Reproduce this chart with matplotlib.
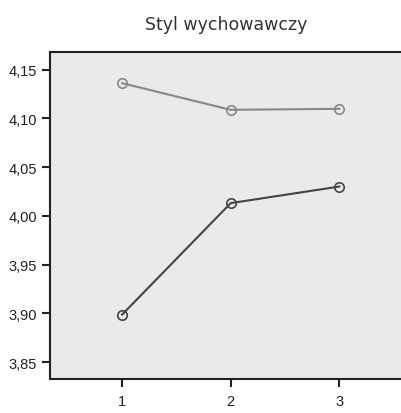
import matplotlib
matplotlib.use('Agg')
import matplotlib.pyplot as plt
from matplotlib.ticker import FuncFormatter

x = [1, 2, 3]
series_light = [4.136, 4.1087, 4.1097]
series_dark = [3.8987, 4.013, 4.030]
y_ticks = [3.85, 3.90, 3.95, 4.00, 4.05, 4.10, 4.15]

W, H = 402, 414
fig = plt.figure(figsize=(W / 100, H / 100), dpi=100)
# axes box in pixels: left 50, top 53, bottom 380, right runs off the image
ax = fig.add_axes([50 / W, 1 - 380 / H, 362 / W, 327 / H])
ax.set_facecolor('#eaeaea')

ax.plot(x, series_light, color='#888888', lw=1.5, marker='o', ms=6.8,
        mfc='none', mec='#888888', mew=1.2)
ax.plot(x, series_dark, color='#444444', lw=1.5, marker='o', ms=6.8,
        mfc='none', mec='#444444', mew=1.2)

ax.set_xlim(0.335, 3.67)
ax.set_ylim(3.8326, 4.168)
ax.set_xticks(x)
ax.set_yticks(y_ticks)
ax.yaxis.set_major_formatter(FuncFormatter(lambda v, p: f'{v:.2f}'.replace('.', ',')))

for s in ['left', 'top', 'bottom']:
    ax.spines[s].set_color('#222222')
    ax.spines[s].set_linewidth(1.5)
ax.spines['right'].set_visible(False)

ax.tick_params(direction='out', length=6, width=1.5, color='#222222',
               labelsize=10.5, labelcolor='#222222')
ax.tick_params(axis='x', pad=5)
for lbl in ax.get_xticklabels() + ax.get_yticklabels():
    lbl.set_family('Liberation Sans')

fig.text(226 / W, 1 - 25 / H, 'Styl wychowawczy', ha='center', va='center',
         fontsize=12.5, family='DejaVu Sans', color='#333333')

fig.savefig('out.png', dpi=100)
